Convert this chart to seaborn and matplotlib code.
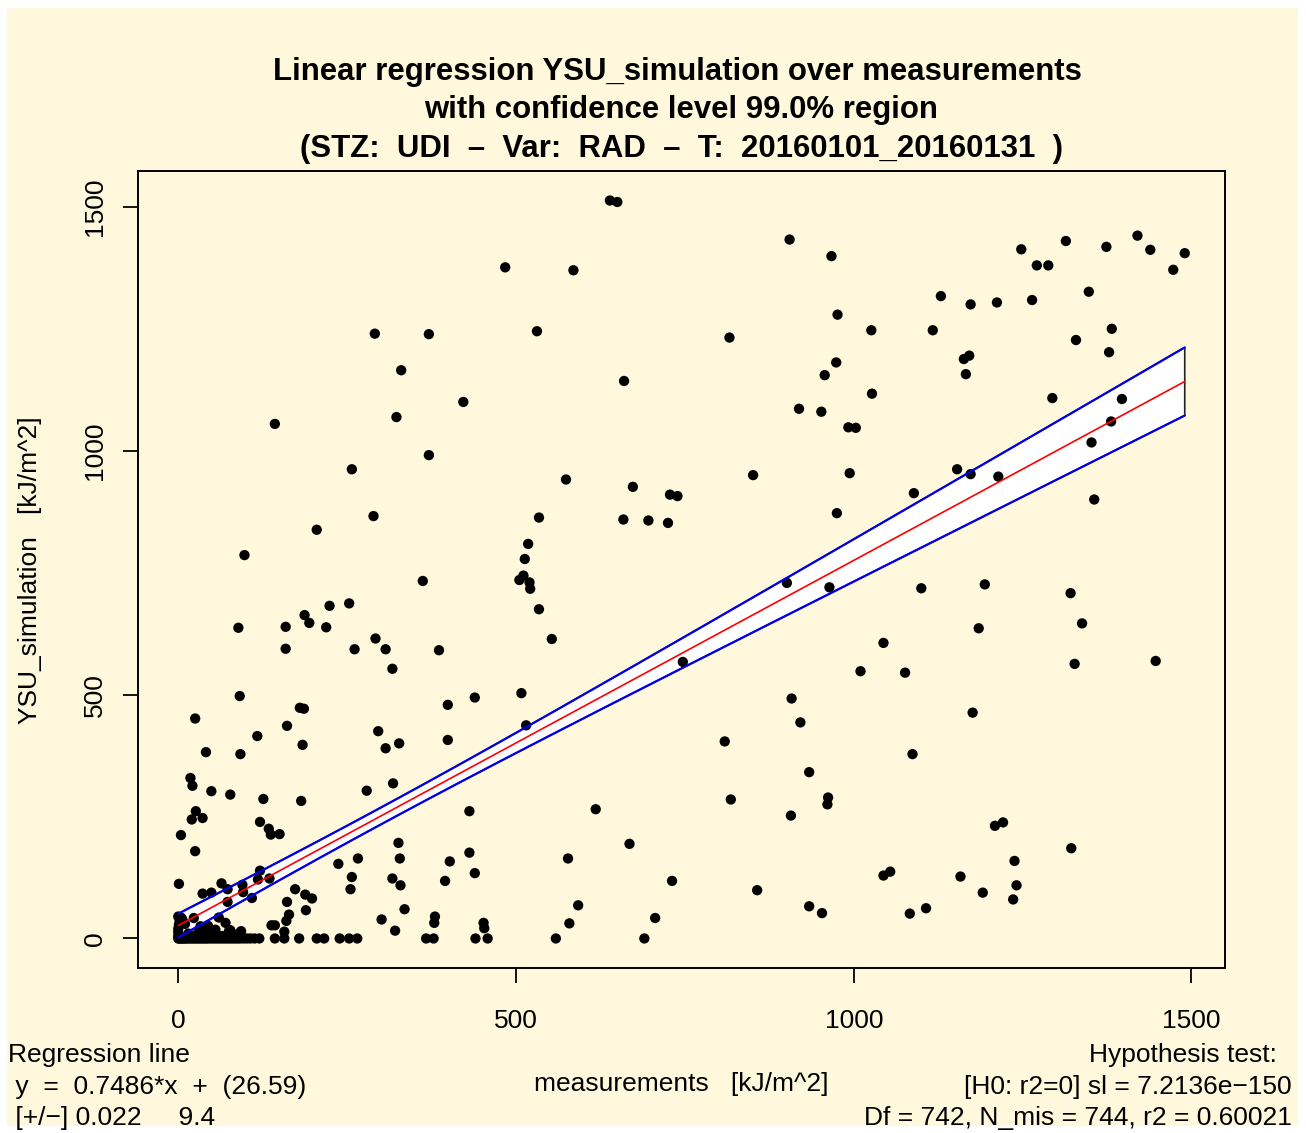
import numpy as np
import pandas as pd
import matplotlib
matplotlib.use("Agg")
import matplotlib.pyplot as plt
from matplotlib.patches import Rectangle
import seaborn as sns

# ---------------- data ----------------
# scattered daytime points: measurements (x) and YSU simulation (y), kJ/m^2
meas_day = [291, 371, 330, 422, 323, 143, 371, 257, 289, 205, 98,
            639, 650, 905, 967, 484, 585, 976, 531, 816, 660, 974, 957, 919, 952, 992, 1003,
            851, 994, 574, 673, 728, 739, 975, 534, 659, 696, 725, 518, 513,
            1248, 1314, 1374, 1420, 1439, 1490, 1473, 1271, 1288, 1129, 1173, 1212, 1264, 1348,
            1026, 1117, 1382, 1329, 1378, 1171, 1163, 1166, 1027, 1294, 1397, 1381, 1352, 1356,
            1153, 1173, 1214, 1089,
            362, 224, 253, 187, 194, 219, 89, 159, 159, 292, 307, 261, 386, 317, 91, 439, 399,
            180, 186, 25, 161, 117, 296, 307, 327, 399, 41, 92, 184, 18, 21, 49, 77, 126, 182,
            279, 318, 431, 26, 20, 36, 121, 134, 137, 150, 4, 25, 326, 328, 266, 237, 431, 402,
            439, 395, 317, 329, 257, 255, 1, 173, 188, 198, 189, 161, 164, 160, 157, 143, 138,
            335, 301, 321, 380, 379, 452, 453,
            505, 511, 520, 521, 534, 553, 508, 515, 747, 901, 964, 908, 921, 809, 934, 818, 962,
            961, 907, 618, 668, 577, 731, 857, 592, 579, 559, 706, 690, 934, 953,
            1100, 1194, 1321, 1338, 1185, 1044, 1010, 1076, 1327, 1447, 1176, 1087, 1209, 1221,
            1322, 1238, 1044, 1054, 1158, 1241, 1191, 1236, 1107, 1083]
sim_day = [1240, 1239, 1165, 1100, 1069, 1055, 991, 962, 866, 838, 786,
           1513, 1510, 1433, 1399, 1376, 1370, 1279, 1245, 1232, 1143, 1181, 1155, 1086, 1080, 1048, 1047,
           950, 954, 941, 926, 910, 907, 872, 863, 859, 857, 852, 809, 778,
           1413, 1430, 1418, 1441, 1412, 1405, 1371, 1380, 1380, 1317, 1300, 1304, 1309, 1326,
           1247, 1247, 1250, 1227, 1202, 1195, 1188, 1157, 1117, 1108, 1106, 1060, 1017, 900,
           962, 952, 947, 913,
           733, 682, 687, 663, 647, 638, 637, 639, 594, 615, 593, 593, 591, 553, 497, 494, 479,
           473, 471, 451, 436, 415, 425, 390, 400, 407, 382, 378, 397, 329, 313, 302, 295, 286, 282,
           303, 318, 261, 261, 244, 247, 239, 225, 213, 214, 212, 179, 196, 164, 164, 153, 176, 158,
           134, 118, 123, 109, 126, 101, 112, 101, 90, 82, 58, 75, 49, 36, 14, 27, 27,
           60, 39, 16, 45, 32, 32, 21,
           735, 744, 730, 717, 675, 614, 503, 437, 567, 729, 720, 492, 443, 404, 341, 285, 289,
           275, 252, 265, 194, 164, 118, 99, 68, 31, 0, 42, 0, 66, 52,
           718, 726, 708, 646, 636, 606, 548, 545, 563, 569, 463, 378, 231, 238,
           185, 159, 129, 137, 127, 109, 94, 80, 62, 51]

# low-radiation cluster near the origin
meas_low = [64, 49, 36, 73, 95, 96, 109, 121, 118, 135, 73, 23, 4, 60, 44, 33, 77, 93, 0,
            0, 0, 1, 2, 0, 6, 36, 70, 75, 51, 15, 25, 30, 55, 85, 65, 10, 40]
sim_low = [113, 94, 92, 101, 110, 95, 83, 139, 121, 123, 75, 42, 43, 43, 26, 25, 17, 15, 13,
           5, 20, 28, 35, 45, 39, 20, 32, 15, 8, 10, 5, 14, 18, 8, 5, 30, 10]

# night / zero-simulation points (y = 0)
meas_zero = [0, 1, 3, 5, 7, 9, 11, 14, 17, 20, 23, 26, 29, 32, 35, 38, 41, 44, 48, 52, 56, 60,
             64, 68, 72, 76, 80, 84, 88, 92, 97, 102, 107, 113, 120, 143, 157, 179, 205, 216,
             239, 253, 265, 367, 378, 440, 458]
sim_zero = [0] * len(meas_zero)

# regression statistics (from the annotation)
slope, intercept = 0.7486, 26.59
slope_se, intercept_se = 0.022, 9.4
n_obs = 744
x_mean_est = 300.0
t_crit = 2.583  # 99% two-sided, df = 742

title_lines = ["Linear regression YSU_simulation over measurements",
               "with confidence level 99.0% region",
               "(STZ:  UDI  \u2013  Var:  RAD  \u2013  T:  20160101_20160131  )"]
x_label = "measurements   [kJ/m^2]"
y_label = "YSU_simulation   [kJ/m^2]"
left_notes = ["Regression line", " y  =  0.7486*x  +  (26.59)", " [+/\u2212] 0.022     9.4"]
right_notes = ["Hypothesis test:  ", "[H0: r2=0] sl = 7.2136e\u2212150",
               "Df = 742, N_mis = 744, r2 = 0.60021"]
x_ticks = [0, 500, 1000, 1500]
y_ticks = [0, 500, 1000, 1500]

# ---------------- figure ----------------
W, H = 1306, 1133
sns.set_style("ticks")
plt.rcParams["font.family"] = ["Liberation Sans", "DejaVu Sans"]
for key in ["text.color", "axes.labelcolor", "xtick.color", "ytick.color", "axes.edgecolor"]:
    plt.rcParams[key] = "black"
BG = "#FFF8DC"

fig = plt.figure(figsize=(W / 100, H / 100), dpi=100)
fig.patch.set_facecolor("white")
fig.add_artist(Rectangle((7 / W, 1 - 1126 / H), (1298 - 7) / W, (1126 - 8) / H,
                         transform=fig.transFigure, facecolor=BG, edgecolor="none", zorder=-10))

ax = fig.add_axes([138 / W, 1 - 968 / H, (1225 - 138) / W, (968 - 171) / H])
ax.set_facecolor(BG)

df = pd.DataFrame({
    "meas": meas_day + meas_low + meas_zero,
    "sim": sim_day + sim_low + sim_zero,
})

# confidence band
xs = np.linspace(min(df["meas"]), max(df["meas"]), 200)
fit = intercept + slope * xs
s2n = intercept_se ** 2 - (slope_se * x_mean_est) ** 2
half = t_crit * np.sqrt(s2n + (slope_se * (xs - x_mean_est)) ** 2)
upper, lower = fit + half, fit - half
ax.fill(np.concatenate([xs, xs[::-1]]), np.concatenate([upper, lower[::-1]]),
        facecolor="white", edgecolor="#222222", linewidth=1.2, zorder=1)

sns.scatterplot(data=df, x="meas", y="sim", ax=ax, color="black", s=55,
                edgecolor="none", linewidth=0, zorder=2, legend=False)

band = pd.DataFrame({"x": xs, "fit": fit, "up": upper, "lo": lower})
sns.lineplot(data=band, x="x", y="up", ax=ax, color="#0000EE", lw=1.6, zorder=3, estimator=None)
sns.lineplot(data=band, x="x", y="lo", ax=ax, color="#0000EE", lw=1.6, zorder=3, estimator=None)
sns.lineplot(data=band, x="x", y="fit", ax=ax, color="red", lw=1.2, zorder=3, estimator=None)

# R-style limits (4% padding)
xmin, xmax = min(df["meas"]), max(df["meas"])
ymin, ymax = min(df["sim"]), max(df["sim"])
ax.set_xlim(xmin - 0.04 * (xmax - xmin), xmax + 0.04 * (xmax - xmin))
ax.set_ylim(ymin - 0.04 * (ymax - ymin), ymax + 0.04 * (ymax - ymin))

ax.set_xticks(x_ticks)
ax.set_yticks(y_ticks)
ax.set_xticklabels([str(v) for v in x_ticks])
ax.set_yticklabels([str(v) for v in y_ticks], rotation=90, va="center")
ax.tick_params(axis="both", direction="out", length=11, width=1.3, labelsize=19,
               color="black", labelcolor="black")
ax.tick_params(axis="x", pad=18.5)
ax.tick_params(axis="y", pad=11.5)
ax.set_xlabel("")
ax.set_ylabel("")
for sp in ax.spines.values():
    sp.set_visible(True)
    sp.set_linewidth(1.4)
    sp.set_color("black")

# title
for i, line in enumerate(title_lines):
    fig.text([677, 681.5, 681][i] / W, 1 - [72, 110, 149][i] / H, line, ha="center", va="center",
             fontsize=22.4, fontweight="bold", color="black")

fig.text(681.5 / W, 1 - 1084 / H, x_label, ha="center", va="center", fontsize=19, color="black")
fig.text(30 / W, 1 - 570 / H, y_label, ha="center", va="center", rotation=90, fontsize=19,
         color="black")

for i, line in enumerate(left_notes):
    fig.text(8 / W, 1 - [1055, 1087, 1118][i] / H, line, ha="left", va="center", fontsize=19,
             color="black")
for i, line in enumerate(right_notes):
    fig.text(1292 / W, 1 - [1055, 1087, 1118][i] / H, line, ha="right", va="center", fontsize=19,
             color="black")

fig.savefig("out.png", dpi=100, facecolor=fig.get_facecolor())
